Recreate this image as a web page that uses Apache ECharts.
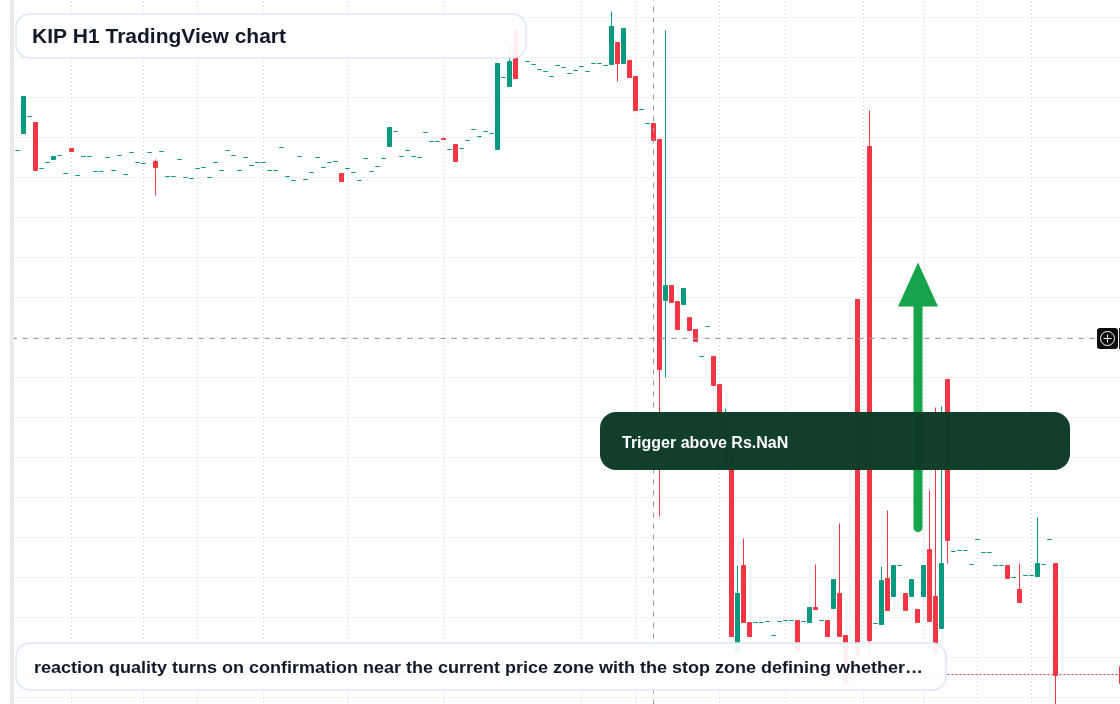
<!DOCTYPE html>
<html>
<head>
<meta charset="utf-8">
<style>
  html, body { margin: 0; padding: 0; background: #fff; }
  #chart { width: 1120px; height: 704px; }
</style>
<script src="https://cdn.jsdelivr.net/npm/echarts@6/dist/echarts.min.js"></script>
</head>
<body>
<div id="chart"></div>
<script>
// Hourly bars; empty slots stay null.
const opens = [
  8.67,8.84,9.01,8.95,8.49,8.55,8.58,8.62,8.44,8.69,
  8.42,8.61,8.61,8.46,8.46,8.60,8.47,8.62,8.43,8.65,
  8.55,8.54,8.65,8.56,8.66,8.41,8.41,8.58,8.40,8.39,
  8.49,8.50,8.40,8.55,8.47,8.67,8.62,8.47,8.60,8.52,
  8.55,8.55,8.47,8.47,8.70,8.41,8.37,8.61,8.38,8.45,
  8.60,8.50,8.55,8.56,8.44,8.49,8.45,8.37,8.59,8.46,
  8.51,8.59,8.71,8.86,8.61,8.67,8.61,8.60,8.85,8.76,
  8.76,8.79,8.68,8.73,8.69,8.77,8.88,8.81,8.86,8.84,
  8.68,9.40,9.31,9.87,9.67,9.56,9.53,9.48,9.46,9.41,
  9.52,9.50,9.44,9.47,9.51,9.46,9.54,9.54,9.52,9.53,
  9.75,9.54,9.57,9.41,9.08,8.94,8.94,8.78,7.17,7.32,
  7.16,7.13,7.00,6.88,6.61,6.91,6.61,6.33,5.50,5.67,
  3.65,4.52,3.95,3.95,3.95,3.96,3.82,3.96,3.97,3.97,
  3.97,3.96,3.95,4.10,3.97,3.97,4.09,4.24,3.82,3.34,
  7.18,3.61,8.71,3.94,3.93,4.39,4.21,4.52,4.24,4.21,
  4.08,4.21,4.68,4.21,3.89,6.38,4.66,4.67,4.67,4.53,
  4.78,4.65,4.65,4.52,4.52,4.52,4.40,4.28,4.42,4.42,
  4.41,4.53,4.78,4.54,
  null,null,null,null,null,null,null,null,null,null,
  3.51,null
];
const closes = [
  8.67,9.21,9.01,8.47,8.49,8.55,8.61,8.62,8.44,8.66,
  8.42,8.61,8.61,8.46,8.46,8.60,8.47,8.62,8.43,8.65,
  8.55,8.54,8.65,8.50,8.66,8.41,8.41,8.58,8.40,8.39,
  8.49,8.50,8.40,8.55,8.47,8.67,8.62,8.47,8.60,8.52,
  8.55,8.55,8.47,8.47,8.70,8.41,8.37,8.61,8.38,8.45,
  8.60,8.50,8.55,8.56,8.36,8.49,8.45,8.37,8.59,8.46,
  8.51,8.59,8.90,8.86,8.61,8.67,8.61,8.60,8.85,8.76,
  8.76,8.78,8.68,8.56,8.69,8.77,8.88,8.81,8.86,8.84,
  9.54,9.40,9.56,9.39,9.67,9.56,9.53,9.48,9.46,9.41,
  9.52,9.50,9.44,9.47,9.51,9.46,9.54,9.54,9.52,9.91,
  9.54,9.89,9.40,9.07,9.08,8.94,8.77,6.48,7.32,7.15,
  6.88,7.29,6.87,6.76,6.61,6.91,6.32,5.50,5.82,3.81,
  4.24,3.95,3.81,3.95,3.95,3.96,3.82,3.96,3.97,3.97,
  3.65,3.96,4.10,4.08,3.97,3.81,4.38,3.81,3.33,3.34,
  3.62,3.61,3.77,3.94,4.37,4.07,4.52,4.52,4.07,4.38,
  3.95,4.52,3.96,3.65,4.54,4.77,4.66,4.67,4.67,4.53,
  4.78,4.65,4.65,4.52,4.52,4.39,4.40,4.15,4.42,4.42,
  4.54,4.53,4.78,3.42,
  null,null,null,null,null,null,null,null,null,null,
  3.34,null
];
// Wick tips that reach past the candle body, keyed by bar number.
const wickHighs = {23:8.58,82:9.74,99:10.06,108:9.87,118:6.09,120:4.52,121:4.79,133:4.53,137:4.94,142:9.07,144:4.51,145:5.07,152:5.27,153:6.10,154:6.11,167:4.54,170:5.00};
const wickLows = {23:8.22,100:9.36,107:5.01,108:6.40,142:3.61,155:4.54,173:3.07};

// Session breaks carrying a vertical grid line.
const sessionBars = [9,21,30,41,55,71,94,103,117,128,141,151,160,169];

const crosshairPrice = 6.79;
const crosshairBar = 106;
const lastPrice = 3.43;

// Signal arrow: bar, shaft start, head base and tip prices.
const arrowBar = 150;
const arrowFrom = 4.90;
const arrowBase = 7.11;
const arrowTip = 7.55;

const titleText = 'KIP H1 TradingView chart';
const triggerText = 'Trigger above Rs.NaN';
const noteText = 'reaction quality turns on confirmation near the current price zone with the stop zone defining whether\u2026';

const UP = '#089981';
const DOWN = '#F23645';
const FONT = '"Liberation Sans", Arial, sans-serif';

// A leading empty slot keeps the first candle inside the clip area.
const barLabels = ['', ...opens.map((_, i) => String(i))];
const candles = [null, ...opens.map((o, i) => {
  const c = closes[i];
  if (o === null) return null;
  const hi = wickHighs[i] !== undefined ? wickHighs[i] : Math.max(o, c);
  const lo = wickLows[i] !== undefined ? wickLows[i] : Math.min(o, c);
  return [o, c, lo, hi];
})].map(d => d === null ? ['-', '-', '-', '-'] : d);

const chart = echarts.init(document.getElementById('chart'), null, { renderer: 'canvas' });

const gridDots = { color: '#c8cacd', width: 1, type: [1, 3] };

chart.setOption({
  animation: false,
  backgroundColor: '#ffffff',
  grid: { left: 11.5, top: -22.5, width: 1116, height: 760, containLabel: false, outerBoundsMode: 'none' },
  xAxis: {
    type: 'category',
    data: barLabels,
    boundaryGap: false,
    axisLine: { show: false },
    axisTick: { show: false },
    axisLabel: { show: false },
    splitLine: {
      show: true,
      interval: (idx) => sessionBars.includes(idx - 1),
      lineStyle: gridDots
    }
  },
  yAxis: {
    type: 'value',
    min: 2.8,
    max: 10.4,
    interval: 0.4,
    axisLine: { show: false },
    axisTick: { show: false },
    axisLabel: { show: false },
    splitLine: { show: true, lineStyle: gridDots }
  },
  series: [{
    type: 'candlestick',
    data: candles,
    barWidth: 4,
    itemStyle: {
      color: UP,
      color0: DOWN,
      borderColor: UP,
      borderColor0: DOWN,
      borderColorDoji: UP,
      borderWidth: 1
    },
    markLine: {
      silent: true,
      symbol: 'none',
      label: { show: false },
      data: [
        { yAxis: crosshairPrice, lineStyle: { color: '#9a9ca3', width: 1, type: [5, 6] } },
        { xAxis: barLabels[crosshairBar + 1], lineStyle: { color: '#9a9ca3', width: 1, type: [5, 6] } },
        { yAxis: lastPrice, lineStyle: { color: DOWN, width: 1, opacity: 1, type: [2, 2] } }
      ]
    }
  }]
});

// Overlays: side strip, signal arrow, callouts and the crosshair button.
const at = (bar, price) => chart.convertToPixel({ gridIndex: 0 }, [barLabels[bar + 1], price]);
const [arrowX, fromY] = at(arrowBar, arrowFrom);
const baseY = at(arrowBar, arrowBase)[1];
const tipY = at(arrowBar, arrowTip)[1];
const cx = arrowX + 0.5;

const panelStroke = '#dde8fa';
chart.setOption({
  graphic: { elements: [
    { type: 'rect', z: 50, shape: { x: 10, y: 0, width: 4, height: 704 }, style: { fill: '#e9e9e9' } },

    { type: 'line', z: 60, shape: { x1: cx, y1: fromY, x2: cx, y2: baseY }, style: { stroke: '#16a34a', lineWidth: 9, lineCap: 'round' } },
    { type: 'polygon', z: 60, shape: { points: [[cx, tipY], [cx + 20, baseY], [cx - 20, baseY]] }, style: { fill: '#16a34a' } },

    { type: 'rect', z: 70, shape: { x: 600, y: 412, width: 470, height: 58, r: 16 }, style: { fill: 'rgba(13,59,40,0.98)' } },
    { type: 'text', z: 71, style: { x: 622, y: 444, text: triggerText, fill: '#ffffff', font: 'bold 16px ' + FONT, textVerticalAlign: 'middle' } },

    { type: 'rect', z: 70, shape: { x: 16, y: 14, width: 510, height: 44, r: 14 }, style: { fill: 'rgba(255,255,255,0.93)', stroke: panelStroke, lineWidth: 1.5 } },
    { type: 'text', z: 71, style: { x: 32, y: 37, text: titleText, fill: '#111827', font: 'bold 21px ' + FONT, textVerticalAlign: 'middle' } },

    { type: 'rect', z: 70, shape: { x: 16, y: 643, width: 930, height: 47, r: 14 }, style: { fill: 'rgba(255,255,255,0.93)', stroke: panelStroke, lineWidth: 1.5 } },
    { type: 'text', z: 71, x: 34, y: 668.5, scaleX: 1.125, style: { x: 0, y: 0, text: noteText, fill: '#111827', font: 'bold 16px ' + FONT, textVerticalAlign: 'middle' } },

    { type: 'rect', z: 80, shape: { x: 1097, y: 328, width: 21, height: 21, r: 3 }, style: { fill: '#0b0b0b' } },
    { type: 'circle', z: 81, shape: { cx: 1107.5, cy: 338.5, r: 7 }, style: { fill: 'none', stroke: '#ffffff', lineWidth: 1 } },
    { type: 'line', z: 81, shape: { x1: 1103.5, y1: 338.5, x2: 1111.5, y2: 338.5 }, style: { stroke: '#ffffff', lineWidth: 1 } },
    { type: 'line', z: 81, shape: { x1: 1107.5, y1: 334.5, x2: 1107.5, y2: 342.5 }, style: { stroke: '#ffffff', lineWidth: 1 } },
    { type: 'rect', z: 80, shape: { x: 1119, y: 328, width: 1, height: 21 }, style: { fill: '#222222' } }
  ] }
});
</script>
</body>
</html>
